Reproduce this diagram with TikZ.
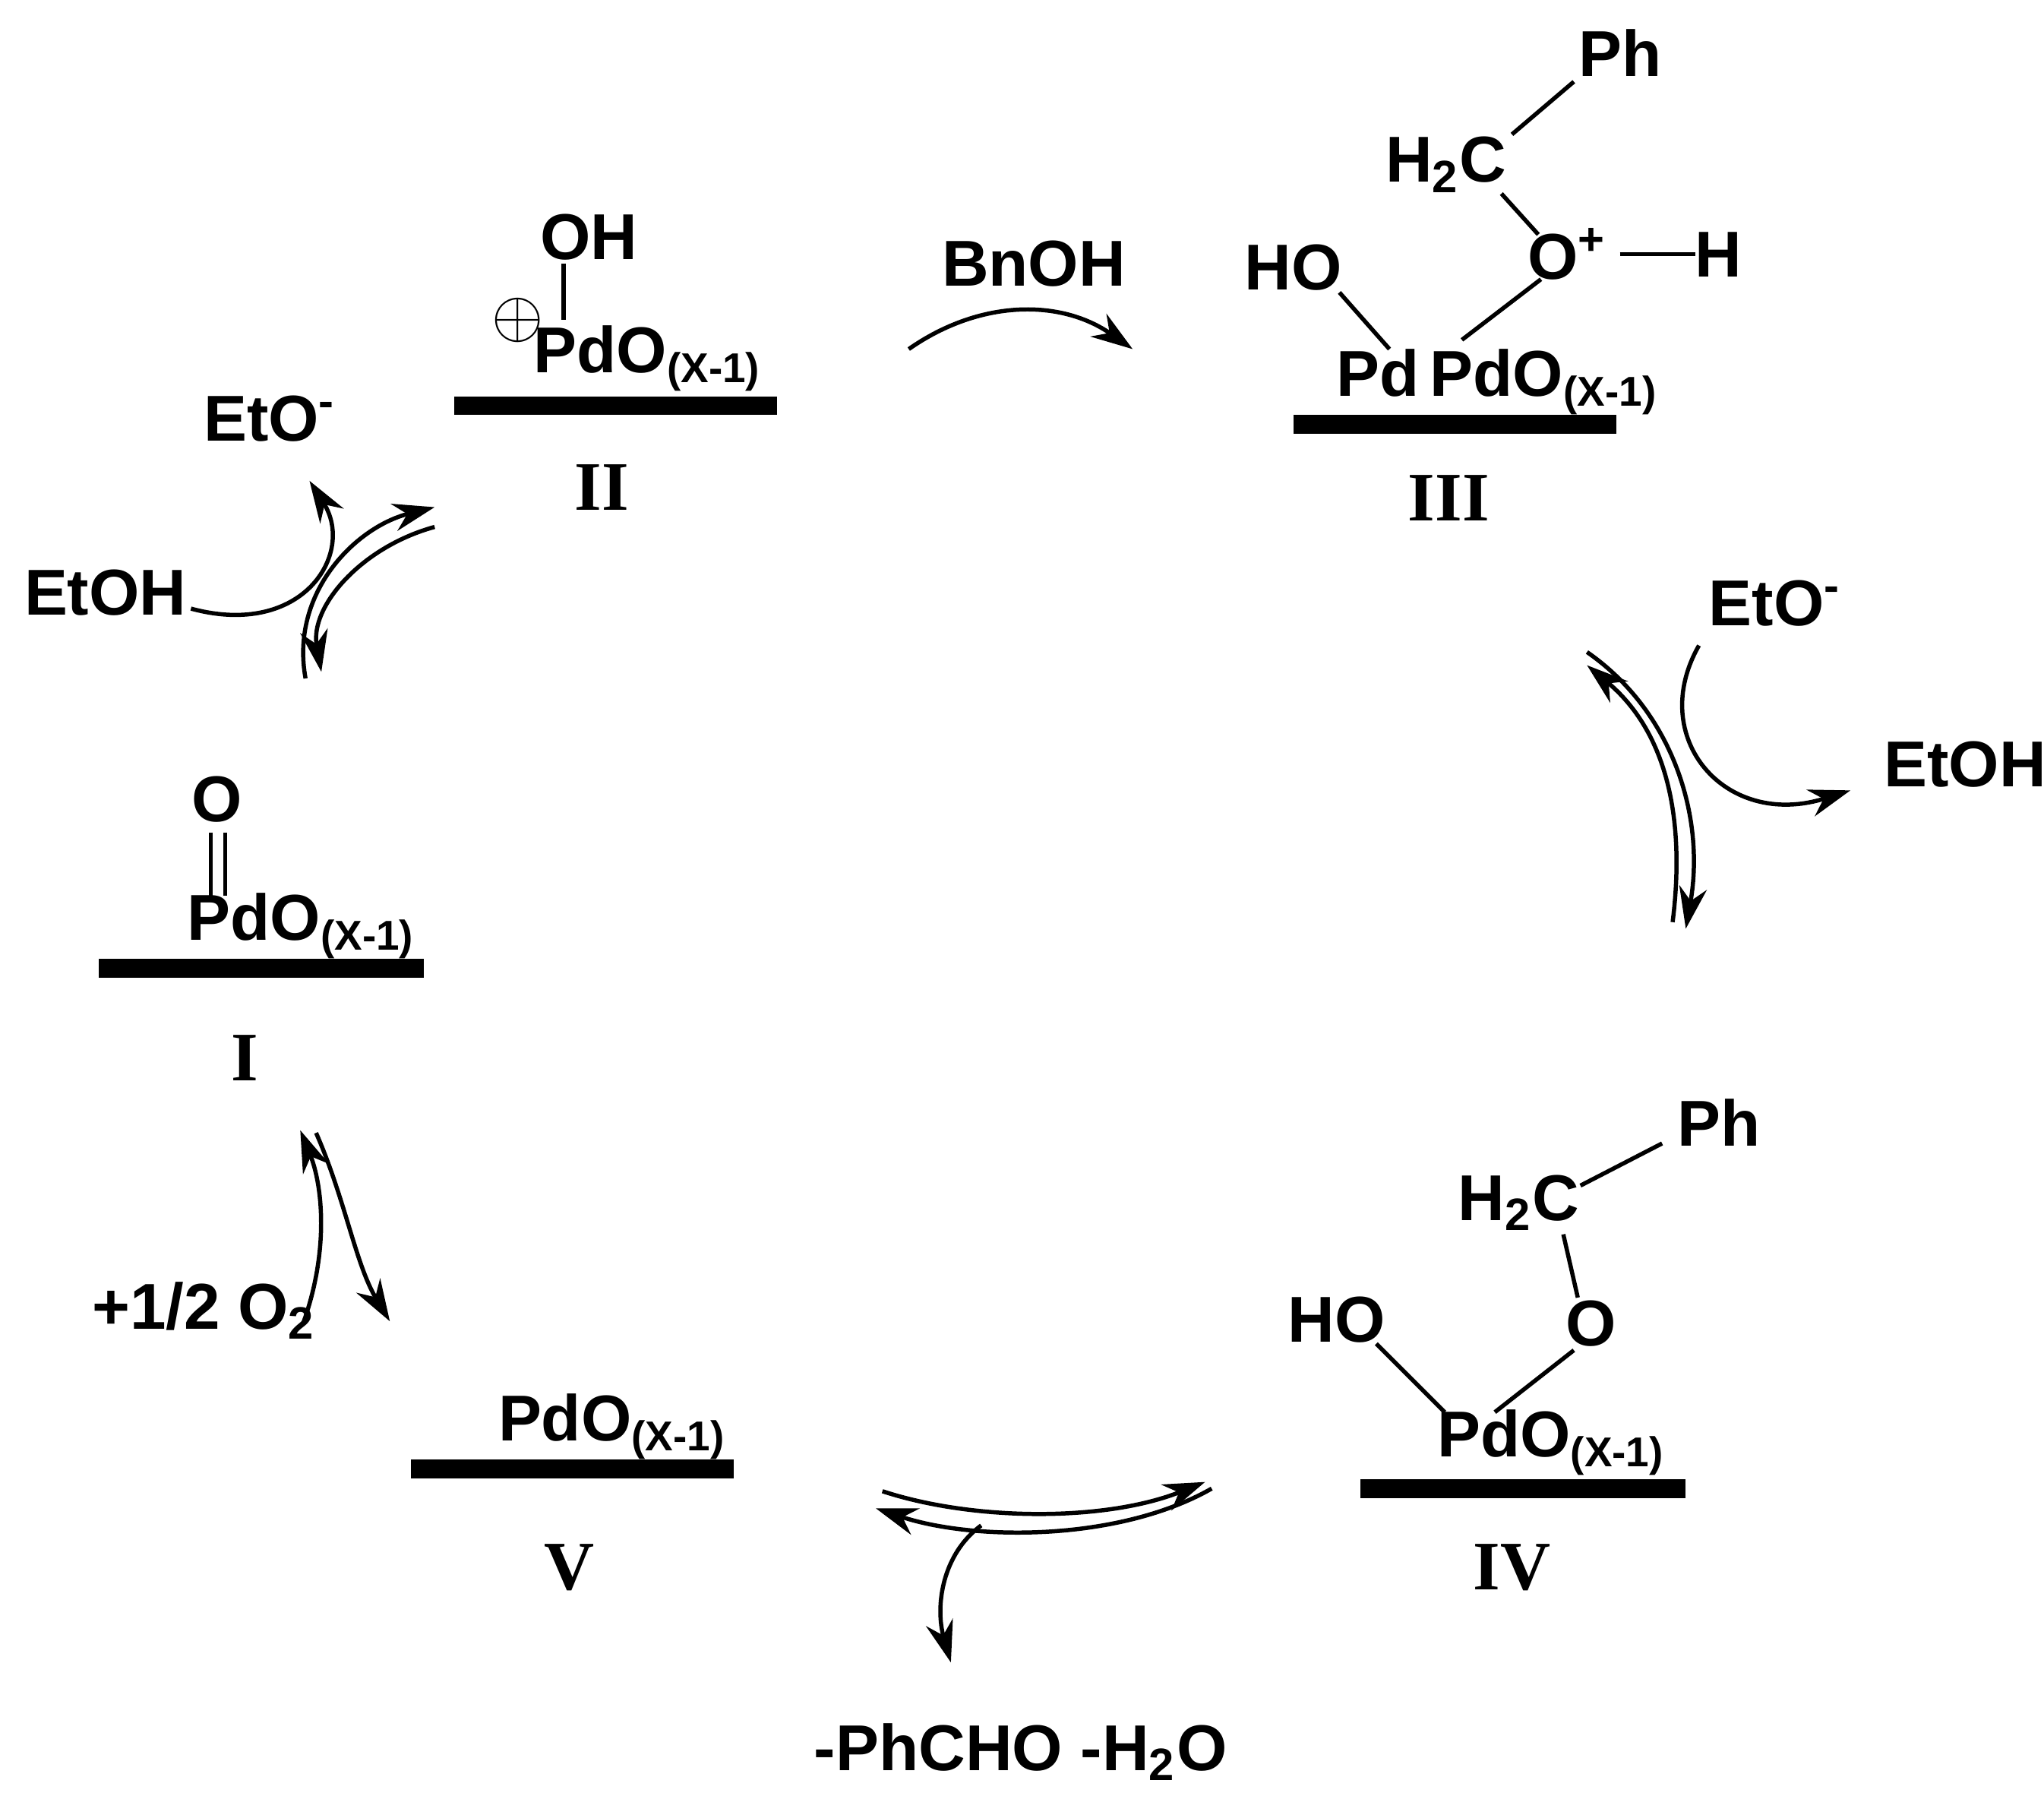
\documentclass[tikz,border=0pt]{standalone}
\usepackage{fontspec}
\setmainfont{Liberation Sans}
\newfontfamily\romfont{Liberation Serif}
\usetikzlibrary{arrows.meta}
\tikzset{
  chem/.style={font=\fontsize{14}{16}\selectfont\bfseries,inner sep=1pt},
  roman/.style={font=\romfont\fontsize{15}{17}\selectfont\bfseries},
  surface/.style={line width=4pt},
  bond/.style={line width=0.9pt},
  rxn/.style={line width=0.9pt,-{Stealth[length=9pt,width=6pt]}},
}
\newcommand{\pdo}{PdO\textsubscript{\fontsize{9}{10}\selectfont(X-1)}}
\begin{document}
\begin{tikzpicture}[x=0.01cm,y=-0.01cm]
  \useasboundingbox (0,0) rectangle (1552,1363);
  % species II
  \draw[surface] (345,308) -- (590,308);
  \node[chem] (pdII) at (492,272) {\pdo};
  \node[chem] (plusII) at (393,243) {$\oplus$};
  \node[chem] (ohII) at (447,180) {OH};
  \draw[bond] (428,200) -- (428,243);
  \node[roman] (labII) at (457,370) {II};
  % species III
  \draw[surface] (982,322) -- (1227,322);
  \node[chem] (pdIII) at (1137,290) {Pd\,\pdo\rlap{}};
  \node[chem] (hoIII) at (982,203) {HO};
  \node[chem] (oIII) at (1190,193) {O\textsuperscript{+}};
  \node[chem] (hIII) at (1305,193) {H};
  \node[chem] (chIII) at (1098,125) {H\textsubscript{2}C};
  \node[chem] (phIII) at (1230,40) {Ph};
  \draw[bond] (1017,222) -- (1055,265);
  \draw[bond] (1110,258) -- (1170,212);
  \draw[bond] (1230,193) -- (1287,193);
  \draw[bond] (1140,147) -- (1168,178);
  \draw[bond] (1148,102) -- (1195,62);
  \node[roman] (labIII) at (1100,378) {III};
  % species IV
  \draw[surface] (1033,1130) -- (1280,1130);
  \node[chem] (pdIV) at (1178,1095) {\pdo};
  \node[chem] (hoIV) at (1015,1002) {HO};
  \node[chem] (oIV) at (1208,1005) {O};
  \node[chem] (chIV) at (1153,913) {H\textsubscript{2}C};
  \node[chem] (phIV) at (1305,852) {Ph};
  \draw[bond] (1045,1020) -- (1097,1072);
  \draw[bond] (1135,1072) -- (1195,1025);
  \draw[bond] (1187,937) -- (1198,985);
  \draw[bond] (1200,900) -- (1262,868);
  \node[roman] (labIV) at (1148,1190) {IV};
  % species V
  \draw[surface] (312,1115) -- (557,1115);
  \node[chem] (pdV) at (465,1083) {\pdo};
  \node[roman] (labV) at (432,1190) {V};
  % species I
  \draw[surface] (75,735) -- (322,735);
  \node[chem] (pdI) at (229,703) {\pdo};
  \node[chem] (oI) at (165,607) {O};
  \draw[bond] (160,632) -- (160,680);
  \draw[bond] (171,632) -- (171,680);
  \node[roman] (labI) at (186,803) {I};
  % reagents
  \node[chem] (bnoh) at (785,200) {BnOH};
  \node[chem] (etoA) at (205,318) {EtO\textsuperscript{-}};
  \node[chem] (etohA) at (80,450) {EtOH};
  \node[chem] (etoB) at (1348,458) {EtO\textsuperscript{-}};
  \node[chem] (etohB) at (1492,580) {EtOH};
  \node[chem] (o2) at (155,995) {+1/2 O\textsubscript{2}};
  \node[chem] (prod) at (775,1330) {-PhCHO -H\textsubscript{2}O};
  % arrows
  \draw[rxn] (690,265) to[bend left=35] (860,265);
  \draw[rxn] (145,462) .. controls (230,485) and (270,420) .. (235,365);
  \draw[rxn] (232,515) .. controls (220,450) and (270,400) .. (330,385);
  \draw[rxn] (330,400) .. controls (275,415) and (235,460) .. (244,510);
  \draw[rxn] (1205,495) .. controls (1270,540) and (1295,620) .. (1280,705);
  \draw[rxn] (1270,700) .. controls (1280,620) and (1265,555) .. (1205,505);
  \draw[rxn] (1290,490) .. controls (1250,560) and (1310,630) .. (1405,600);
  \draw[rxn] (920,1130) .. controls (850,1170) and (740,1170) .. (665,1145);
  \draw[rxn] (670,1132) .. controls (740,1155) and (840,1155) .. (915,1125);
  \draw[rxn] (745,1158) .. controls (715,1180) and (710,1220) .. (722,1262);
  \draw[rxn] (230,1005) .. controls (250,950) and (245,900) .. (228,858);
  \draw[rxn] (240,860) .. controls (262,910) and (270,960) .. (296,1003);
\end{tikzpicture}
\end{document}
